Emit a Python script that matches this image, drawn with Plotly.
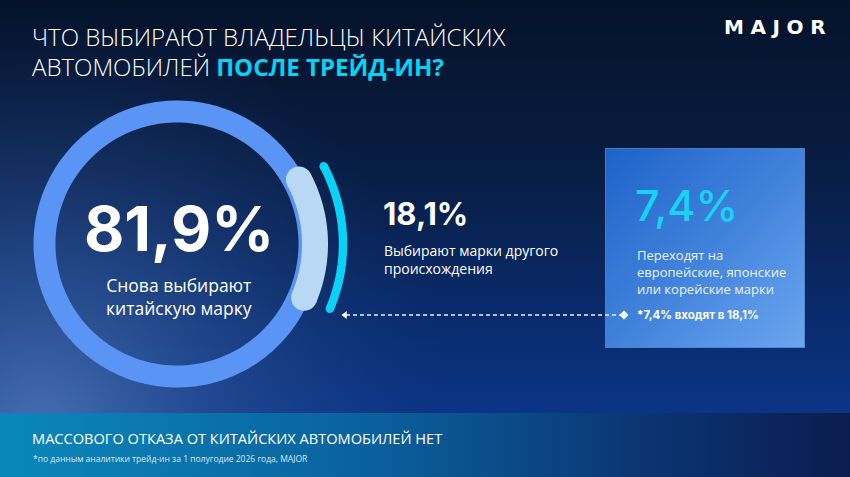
import base64
import numpy as np
import plotly.graph_objects as go

W, H = 850, 477

# ---------------- data ----------------
categories = [
    "Снова выбирают<br>китайскую марку",
    "Выбирают марки другого<br>происхождения",
    "Переходят на<br>европейские, японские<br>или корейские марки",
]
shares = [81.9, 18.1]          # китайские / другие марки, %
sub_share = 7.4                 # европейские, японские, корейские (входят в 18,1%)
title_line1 = "ЧТО ВЫБИРАЮТ ВЛАДЕЛЬЦЫ КИТАЙСКИХ"
title_line2a = "АВТОМОБИЛЕЙ"
title_line2b = "ПОСЛЕ ТРЕЙД-ИН?"
brand = "MAJOR"
banner_text = "МАССОВОГО ОТКАЗА ОТ КИТАЙСКИХ АВТОМОБИЛЕЙ НЕТ"
footnote = "*по данным аналитики трейд-ин за 1 полугодие 2026 года, MAJOR"


def fmt(v):
    return f"{v:.1f}".replace(".", ",") + "%"


note_text = "*" + fmt(sub_share) + " входят в " + fmt(shares[1])

# ---------------- background (svg gradients) ----------------
svg = f"""<svg xmlns='http://www.w3.org/2000/svg' width='{W}' height='{H}' viewBox='0 0 {W} {H}'>
<defs>
<linearGradient id='bg' x1='0' y1='0' x2='0' y2='1'>
<stop offset='0' stop-color='#05122a'/>
<stop offset='0.35' stop-color='#081d42'/>
<stop offset='0.75' stop-color='#0a2f78'/>
<stop offset='1' stop-color='#0a3a97'/>
</linearGradient>
<radialGradient id='glow' gradientUnits='userSpaceOnUse' cx='40' cy='430' r='420'>
<stop offset='0' stop-color='#4a72b4' stop-opacity='0.95'/>
<stop offset='0.45' stop-color='#2f5699' stop-opacity='0.55'/>
<stop offset='1' stop-color='#163a7e' stop-opacity='0'/>
</radialGradient>
<linearGradient id='banner' x1='0' y1='0' x2='1' y2='0'>
<stop offset='0' stop-color='#0a88ba'/>
<stop offset='0.45' stop-color='#0a5f9c'/>
<stop offset='0.75' stop-color='#0b3673'/>
<stop offset='1' stop-color='#0b1c50'/>
</linearGradient>
<linearGradient id='box' x1='0' y1='0' x2='1' y2='1'>
<stop offset='0' stop-color='#1e62c9'/>
<stop offset='0.5' stop-color='#4082db'/>
<stop offset='1' stop-color='#6ca6ef'/>
</linearGradient>
</defs>
<rect x='0' y='0' width='{W}' height='{H}' fill='url(#bg)'/>
<rect x='0' y='0' width='{W}' height='{H}' fill='url(#glow)'/>
<rect x='0' y='413' width='{W}' height='{H-413}' fill='url(#banner)'/>
<rect x='605.5' y='148.5' width='199' height='199' fill='url(#box)' stroke='#6d9be6' stroke-opacity='0.6' stroke-width='1'/>
</svg>"""
svg_uri = "data:image/svg+xml;base64," + base64.b64encode(svg.encode("utf-8")).decode()

# ---------------- donut geometry ----------------
cx, cy = 177, 244
R_ring, w_ring = 132.5, 22
R_light, w_light = 138, 26
R_cyan, w_cyan = 166, 8.5
tilt = 2.5


def arc(r, a0, a1, n=200):
    t = np.radians(np.linspace(a0, a1, n))
    return cx + r * np.cos(t), cy - r * np.sin(t)


total = sum(shares)
span_other = shares[1] / total * 360.0
half = span_other * 0.39   # visible arc (without the round caps)

fig = go.Figure()

# full ring (total = 100%)
rx, ry = arc(R_ring, 0, 360, 400)
fig.add_trace(go.Scatter(x=rx, y=ry, mode="lines",
                         line=dict(color="#5a94f4", width=w_ring, simplify=False),
                         hoverinfo="skip"))

# light segment for "other brands"
lx, ly = arc(R_light, tilt - half, tilt + half)
fig.add_trace(go.Scatter(x=lx, y=ly, mode="lines",
                         line=dict(color="#b9d8f4", width=w_light, simplify=False),
                         hoverinfo="skip"))
fig.add_trace(go.Scatter(x=[lx[0], lx[-1]], y=[ly[0], ly[-1]], mode="markers",
                         marker=dict(color="#b9d8f4", size=w_light, line=dict(width=0)),
                         hoverinfo="skip"))

# cyan outer bracket
kx, ky = arc(R_cyan, tilt - half, tilt + half)
fig.add_trace(go.Scatter(x=kx, y=ky, mode="lines",
                         line=dict(color="#0ad2f6", width=w_cyan, simplify=False),
                         hoverinfo="skip"))
fig.add_trace(go.Scatter(x=[kx[0], kx[-1]], y=[ky[0], ky[-1]], mode="markers",
                         marker=dict(color="#0ad2f6", size=w_cyan, line=dict(width=0)),
                         hoverinfo="skip"))

# dashed connector with arrow
ax0, ax1, ay = 346, 623, 315
fig.add_trace(go.Scatter(x=[ax0, ax1], y=[ay, ay], mode="lines",
                         line=dict(color="#e8f0ff", width=1.5, dash="4px,3px"),
                         hoverinfo="skip"))
fig.add_trace(go.Scatter(x=[ax0 - 1], y=[ay], mode="markers",
                         marker=dict(symbol="triangle-left", size=7, color="#ffffff"),
                         hoverinfo="skip"))
fig.add_trace(go.Scatter(x=[ax1 + 1], y=[ay], mode="markers",
                         marker=dict(symbol="diamond", size=7, color="#ffffff"),
                         hoverinfo="skip"))

TEXT = "Open Sans"
BOLD = "Inter"

ann = []


def add(text, x, y, size, color="#ffffff", family=TEXT, weight=400,
        xanchor="left", yanchor="middle", align="left"):
    ann.append(dict(text=text, x=x, y=y, xref="x", yref="y", showarrow=False,
                    xanchor=xanchor, yanchor=yanchor, align=align,
                    font=dict(size=size, color=color, family=family, weight=weight)))


add(title_line1, 30, 36.5, 24, weight=300)
add(title_line2a + " <span style='color:#00d5f5'><b>" + title_line2b + "</b></span>",
    30, 66, 24, weight=300)
add("\u2004".join(brand), 828, 26.5, 20, family="DejaVu Sans", weight=700,
    xanchor="right")

add("<b>" + fmt(shares[0]) + "</b>", 179, 228, 62, family=BOLD, weight=700,
    xanchor="center", align="center")
add(categories[0], 179, 296, 17.5, xanchor="center", align="center")

add("<b>" + fmt(shares[1]) + "</b>", 381, 213, 31, family=BOLD, weight=700)
add(categories[1], 382, 259, 14)

add(fmt(sub_share), 633, 205, 43, color="#18d3f4", family=BOLD, weight=500)
add(categories[2], 635, 271.5, 13, color="#eaf2ff")
add("<b>" + note_text + "</b>", 635, 315, 11.5, family=BOLD, weight=600)

add(banner_text, 30, 438, 14.6, weight=400)
add(footnote, 31, 458, 8.5, color="#dbe8f5")

fig.update_layout(
    width=W, height=H, autosize=False,
    margin=dict(l=0, r=0, t=0, b=0, pad=0),
    paper_bgcolor="#06142a", plot_bgcolor="rgba(0,0,0,0)",
    showlegend=False,
    xaxis=dict(range=[0, W], visible=False, fixedrange=True),
    yaxis=dict(range=[H, 0], visible=False, fixedrange=True),
    images=[dict(source=svg_uri, xref="paper", yref="paper", x=0, y=1,
                 sizex=1, sizey=1, sizing="stretch", xanchor="left",
                 yanchor="top", layer="below")],
    annotations=ann,
)

fig.write_html("out.html", config={"displayModeBar": False})
